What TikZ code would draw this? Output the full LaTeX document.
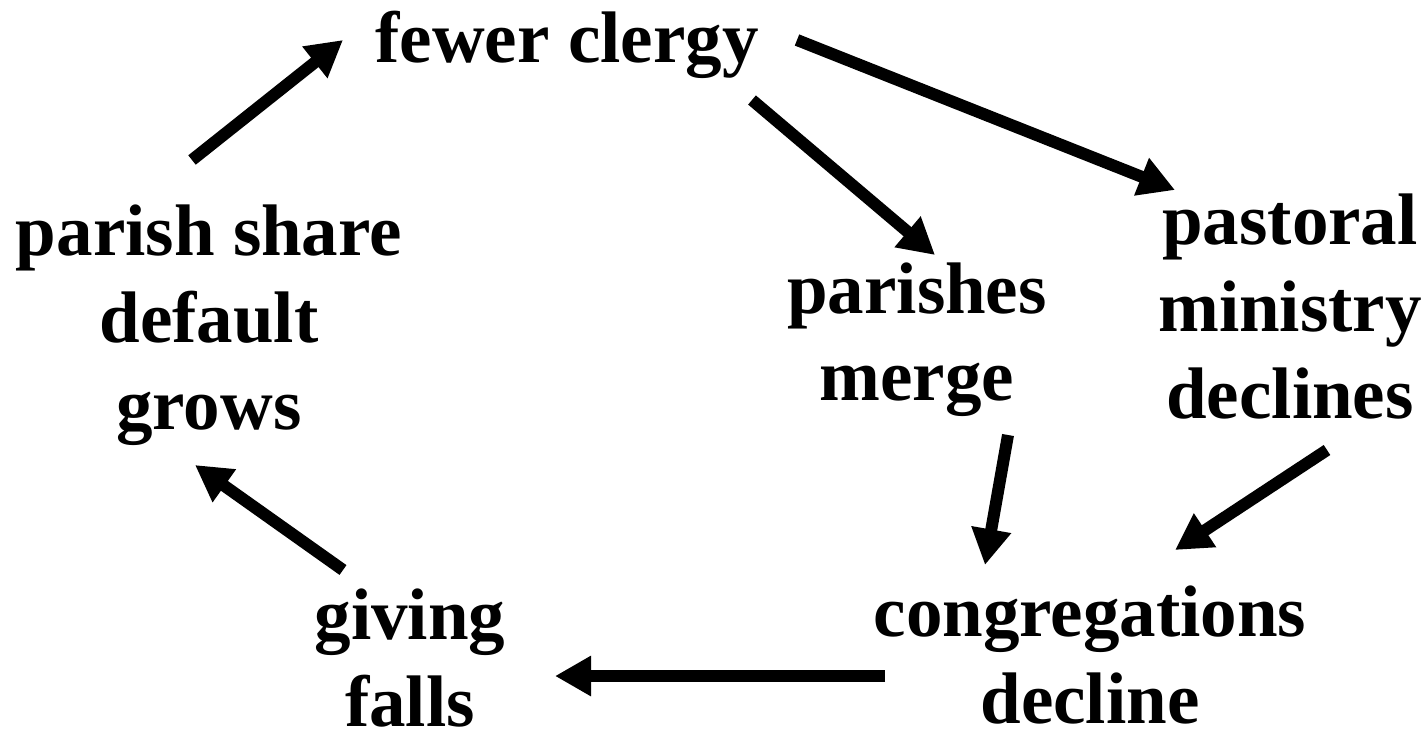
\documentclass[tikz,border=0pt]{standalone}
\usepackage{fontspec}
\setmainfont{Liberation Serif}
\usetikzlibrary{arrows.meta}
\tikzset{
  lbl/.style={align=center, font=\fontsize{36.5}{43.5}\selectfont\bfseries, inner sep=0pt},
  arr/.style={line width=6pt, -{Triangle[length=18pt,width=19pt]}}
}
\begin{document}
\begin{tikzpicture}[x=0.5pt,y=-0.5pt]
\useasboundingbox (0,0) rectangle (1424,740);
\node[lbl] (fewer) at (567,45) {fewer clergy};
\node[lbl] (psd) at (209,325) {parish share\\default\\grows};
\node[lbl] (pm) at (917,340) {parishes\\merge};
\node[lbl] (pmd) at (1290,307) {pastoral\\ministry\\declines};
\node[lbl] (cd) at (1090,655) {congregations\\decline};
\node[lbl] (gf) at (410,658) {giving\\falls};
\coordinate (a1s) at (192,160); \coordinate (a1e) at (343,40);
\coordinate (a2s) at (797,40); \coordinate (a2e) at (1175,190);
\coordinate (a3s) at (752,100); \coordinate (a3e) at (935,255);
\coordinate (a4s) at (1008,435); \coordinate (a4e) at (985,565);
\coordinate (a5s) at (1327,450); \coordinate (a5e) at (1175,550);
\coordinate (a6s) at (885,676); \coordinate (a6e) at (555,676);
\coordinate (a7s) at (343,570); \coordinate (a7e) at (195,465);
\draw[arr] (a1s) -- (a1e);
\draw[arr] (a2s) -- (a2e);
\draw[arr] (a3s) -- (a3e);
\draw[arr] (a4s) -- (a4e);
\draw[arr] (a5s) -- (a5e);
\draw[arr] (a6s) -- (a6e);
\draw[arr] (a7s) -- (a7e);
\end{tikzpicture}
\end{document}
